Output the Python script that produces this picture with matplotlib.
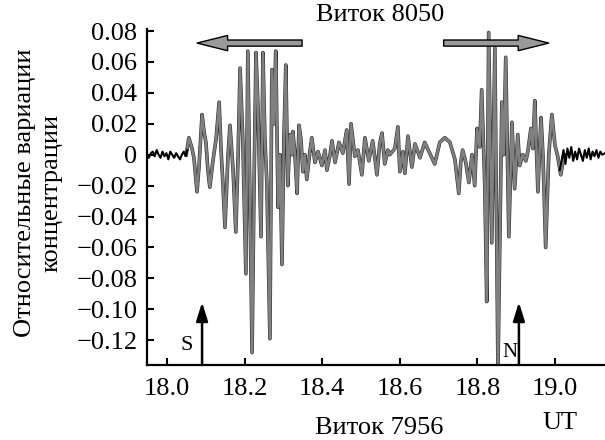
import matplotlib
matplotlib.use("Agg")
import matplotlib.pyplot as plt
import matplotlib.patheffects as pe
import numpy as np

plt.rcParams['font.family'] = ['Liberation Serif', 'DejaVu Serif']

# Виток 8050 - активная часть (серая линия)
ut_gray = [18.049, 18.056, 18.064, 18.069, 18.077, 18.082, 18.090, 18.095, 18.100, 18.105,
           18.110, 18.118, 18.126, 18.134, 18.139, 18.144, 18.149, 18.157, 18.162, 18.170,
           18.177, 18.183, 18.188, 18.195, 18.203, 18.208, 18.213, 18.219, 18.224, 18.229,
           18.234, 18.242, 18.247, 18.252, 18.257, 18.265, 18.270, 18.275, 18.280, 18.286,
           18.291, 18.296, 18.301, 18.306, 18.311, 18.317, 18.322, 18.324, 18.329, 18.335,
           18.340, 18.345, 18.350, 18.355, 18.360, 18.368, 18.373, 18.381, 18.389, 18.399,
           18.407, 18.412, 18.420, 18.425, 18.433, 18.443, 18.453, 18.463, 18.469, 18.474,
           18.484, 18.492, 18.502, 18.510, 18.520, 18.530, 18.541, 18.548, 18.554, 18.561,
           18.569, 18.574, 18.587, 18.595, 18.600, 18.608, 18.613, 18.621, 18.631, 18.639,
           18.652, 18.664, 18.677, 18.690, 18.703, 18.716, 18.729, 18.742, 18.752, 18.757,
           18.762, 18.770, 18.778, 18.786, 18.793, 18.799, 18.806, 18.811, 18.819, 18.824,
           18.829, 18.837, 18.845, 18.853, 18.863, 18.868, 18.873, 18.881, 18.889, 18.896,
           18.904, 18.909, 18.917, 18.925, 18.930, 18.938, 18.943, 18.948, 18.956, 18.964,
           18.969, 18.976, 18.984, 18.992, 19.000, 19.007, 19.015, 19.023]
dn_gray = [0.000, 0.011, 0.004, -0.002, -0.024, -0.008, 0.026, 0.015, 0.008, -0.010,
           -0.021, -0.004, 0.010, 0.034, 0.003, -0.020, -0.047, 0.000, 0.019, -0.010,
           -0.050, 0.000, 0.056, 0.010, -0.077, 0.067, -0.020, -0.128, -0.020, 0.066,
           0.032, -0.053, 0.066, 0.010, -0.018, -0.119, 0.055, 0.020, 0.067, -0.034,
           0.000, -0.071, 0.010, 0.058, -0.020, 0.013, 0.000, 0.015, 0.002, -0.025,
           0.019, 0.010, -0.011, 0.000, -0.016, 0.002, 0.011, -0.005, 0.002, -0.007,
           0.003, -0.010, 0.000, 0.009, -0.005, 0.008, 0.001, 0.016, -0.019, 0.020,
           -0.001, 0.003, -0.013, 0.011, -0.004, 0.009, -0.013, 0.007, 0.014, -0.006,
           0.003, 0.000, 0.004, 0.018, -0.011, 0.002, -0.012, 0.012, -0.008, 0.007,
           -0.002, 0.008, 0.001, -0.006, 0.008, 0.011, 0.008, -0.003, -0.025, -0.005,
           0.003, -0.005, -0.018, 0.000, -0.020, 0.017, 0.005, 0.042, -0.020, -0.095,
           0.079, -0.057, 0.069, -0.140, 0.034, 0.000, 0.063, -0.053, 0.021, -0.022,
           0.013, -0.007, 0.000, -0.004, 0.002, 0.017, 0.004, 0.035, -0.024, 0.024,
           0.000, -0.060, 0.000, 0.026, 0.006, -0.001, -0.013, 0.000]

# спокойные участки (чёрная линия)
ut_left = [17.948, 17.953, 17.958, 17.963, 17.968, 17.973, 17.978, 17.983, 17.988, 17.993,
           17.998, 18.003, 18.008, 18.013, 18.018, 18.023, 18.028, 18.033, 18.038, 18.043,
           18.048, 18.052]
dn_left = [0.000, -0.002, 0.001, 0.002, -0.001, 0.003, 0.000, -0.002, 0.002, -0.001,
           0.001, -0.003, 0.002, 0.000, -0.002, 0.001, -0.001, -0.003, 0.000, 0.002,
           -0.001, 0.003]
ut_right = [19.012, 19.017, 19.022, 19.027, 19.032, 19.037, 19.042, 19.047, 19.052, 19.057,
            19.062, 19.067, 19.072, 19.077, 19.082, 19.087, 19.092, 19.097, 19.102, 19.107,
            19.112, 19.117, 19.122, 19.129]
dn_right = [-0.010, -0.004, 0.003, -0.006, 0.004, -0.002, 0.005, -0.004, 0.002, -0.003,
            0.004, 0.000, -0.004, 0.003, -0.002, 0.004, -0.003, 0.002, -0.001, 0.003,
            -0.002, 0.002, 0.000, 0.001]

yticks = [0.08, 0.06, 0.04, 0.02, 0, -0.02, -0.04, -0.06, -0.08, -0.10, -0.12]
ytick_labels = ['0.08', '0.06', '0.04', '0.02', '0', '\u22120.02', '\u22120.04', '\u22120.06',
                '\u22120.08', '\u22120.10', '\u22120.12']
xticks = [18.0, 18.2, 18.4, 18.6, 18.8, 19.0]
xtick_labels = ['18.0', '18.2', '18.4', '18.6', '18.8', '19.0']

fig = plt.figure(figsize=(6.05, 4.40), dpi=100)
ax = fig.add_axes([147/605, 1-365/440, 458/605, 336/440])

ax.plot(ut_gray, dn_gray, color='#808080', lw=1.8, zorder=2,
        path_effects=[pe.Stroke(linewidth=2.6, foreground='#303030'), pe.Normal()])
ax.plot(ut_left, dn_left, color='black', lw=1.5, zorder=3)
ax.plot(ut_right, dn_right, color='black', lw=1.5, zorder=3)

ax.set_xlim(17.948, 19.129)
ax.set_ylim(-0.136, 0.0813)
ax.set_xticks(xticks)
ax.set_xticklabels(xtick_labels)
ax.set_yticks(yticks)
ax.set_yticklabels(ytick_labels)
ax.tick_params(direction='in', labelsize=19, width=1.5, length=5)
ax.tick_params(axis='x', pad=9)
ax.tick_params(axis='y', pad=7)
for s in ['top', 'right']:
    ax.spines[s].set_visible(False)
for s in ['left', 'bottom']:
    ax.spines[s].set_linewidth(1.6)

# стрелки направления движения спутника
big_arrow = dict(arrowstyle='simple,head_width=0.55,head_length=1.1,tail_width=0.22',
                 fc='#9a9a9a', ec='black', lw=1.0, mutation_scale=20, shrinkA=0, shrinkB=0)
ax.annotate('', xy=(18.077, 0.0722), xytext=(18.348, 0.0722), arrowprops=big_arrow,
            annotation_clip=False)
ax.annotate('', xy=(18.984, 0.0722), xytext=(18.713, 0.0722), arrowprops=big_arrow,
            annotation_clip=False)

small_arrow = dict(arrowstyle='-|>,head_width=0.25,head_length=0.8', color='black', lw=1.8,
                   mutation_scale=14, shrinkA=0, shrinkB=0)
ax.annotate('', xy=(18.090, -0.0954), xytext=(18.090, -0.136), arrowprops=small_arrow)
ax.annotate('', xy=(18.907, -0.0954), xytext=(18.907, -0.136), arrowprops=small_arrow)

fig.text(187/605, 1-345/440, 'S', fontsize=16, ha='center', va='center')
fig.text(510/605, 1-352/440, 'N', fontsize=15, ha='center', va='center')

fig.text(380/605, 1-15/440, 'Виток 8050', fontsize=19, ha='center', va='center')
fig.text(379/605, 1-439/440, 'Виток 7956', fontsize=19, ha='center', va='bottom')
fig.text(560/605, 1-423/440, 'UT', fontsize=19, ha='center', va='center')
fig.text(38/605, 1-193/440, 'Относительные вариации\nконцентрации', fontsize=19,
         rotation=90, ha='center', va='center', multialignment='center', linespacing=1.25)

fig.savefig('out.png', dpi=100)
